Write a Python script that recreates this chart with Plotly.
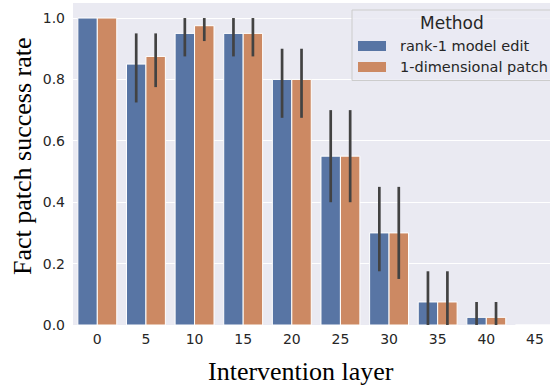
import plotly.graph_objects as go

layers = ["0", "5", "10", "15", "20", "25", "30", "35", "40", "45"]
rank1 = [1.0, 0.85, 0.95, 0.95, 0.8, 0.55, 0.3, 0.075, 0.025, 0.0]
rank1_lo = [1.0, 0.725, 0.875, 0.875, 0.675, 0.4, 0.175, 0.0, 0.0, 0.0]
rank1_hi = [1.0, 0.95, 1.0, 1.0, 0.9, 0.7, 0.45, 0.175, 0.075, 0.0]
patch = [1.0, 0.875, 0.975, 0.95, 0.8, 0.55, 0.3, 0.075, 0.025, 0.0]
patch_lo = [1.0, 0.775, 0.925, 0.875, 0.675, 0.4, 0.15, 0.0, 0.0, 0.0]
patch_hi = [1.0, 0.95, 1.0, 1.0, 0.9, 0.7, 0.45, 0.175, 0.075, 0.0]
series_names = ["rank-1 model edit", "1-dimensional patch"]
colors = ["#5875a4", "#cc8963"]
y_ticks = [0.0, 0.2, 0.4, 0.6, 0.8, 1.0]

W, H = 550, 389
L, R, T, B = 73, 550, 3, 325  # plot area in pixels


def px(x):
    return (x - L) / (R - L)


def py(y):
    return (B - y) / (B - T)


fig = go.Figure()
for name, vals, lo, hi, col in [
    (series_names[0], rank1, rank1_lo, rank1_hi, colors[0]),
    (series_names[1], patch, patch_lo, patch_hi, colors[1]),
]:
    fig.add_trace(go.Bar(
        x=layers, y=vals, name=name,
        marker=dict(color=col, line=dict(color="white", width=1)),
        error_y=dict(type="data", symmetric=False,
                     array=[h - v for h, v in zip(hi, vals)],
                     arrayminus=[v - l for v, l in zip(vals, lo)],
                     color="#424242", thickness=2.7, width=0),
        showlegend=False,
    ))

shapes = [
    dict(type="rect", xref="paper", yref="paper", x0=px(352), x1=px(553), y0=py(80.5), y1=py(10),
         fillcolor="rgba(234,234,242,0.8)", line=dict(color="#cccccc", width=1), layer="above"),
    dict(type="rect", xref="paper", yref="paper", x0=px(358), x1=px(386), y0=py(51), y1=py(41),
         fillcolor=colors[0], line=dict(width=0), layer="above"),
    dict(type="rect", xref="paper", yref="paper", x0=px(358), x1=px(386), y0=py(72), y1=py(62),
         fillcolor=colors[1], line=dict(width=0), layer="above"),
]
annotations = [
    dict(text="Method", xref="paper", yref="paper", x=px(452), y=py(23), xanchor="center", yanchor="middle",
         showarrow=False, font=dict(family="DejaVu Sans", size=17, color="#262626")),
    dict(text=series_names[0], xref="paper", yref="paper", x=px(398), y=py(46), xanchor="left", yanchor="middle",
         showarrow=False, font=dict(family="DejaVu Sans", size=14.5, color="#262626")),
    dict(text=series_names[1], xref="paper", yref="paper", x=px(398), y=py(67), xanchor="left", yanchor="middle",
         showarrow=False, font=dict(family="DejaVu Sans", size=14.5, color="#262626")),
    dict(text="Fact patch success rate", xref="paper", yref="paper", x=px(23), y=py(156),
         xanchor="center", yanchor="middle", textangle=-90, showarrow=False,
         font=dict(family="Liberation Serif", size=26, color="black")),
    dict(text="Intervention layer", xref="paper", yref="paper", x=px(301), y=py(372),
         xanchor="center", yanchor="middle", showarrow=False,
         font=dict(family="Liberation Serif", size=26, color="black")),
]

fig.update_layout(
    width=W, height=H,
    margin=dict(l=L, r=W - R, t=T, b=H - B, pad=0),
    paper_bgcolor="white", plot_bgcolor="#eaeaf2",
    barmode="group", bargap=0.2, bargroupgap=0,
    shapes=shapes, annotations=annotations,
    font=dict(family="DejaVu Sans", size=14, color="#262626"),
)
fig.update_xaxes(type="category", categoryorder="array", categoryarray=layers,
                 range=[-0.5, 9.31], showgrid=False, zeroline=False, showline=False,
                 ticks="", ticklabelstandoff=4, tickfont=dict(size=14, color="#262626"))
fig.update_yaxes(range=[0, 1.049], tickvals=y_ticks, ticktext=[f"{v:.1f}" for v in y_ticks],
                 showgrid=True, gridcolor="white", gridwidth=1.3, zeroline=False, showline=False,
                 ticks="", ticklabelstandoff=7, tickfont=dict(size=14, color="#262626"))

fig.write_html("out.html")
